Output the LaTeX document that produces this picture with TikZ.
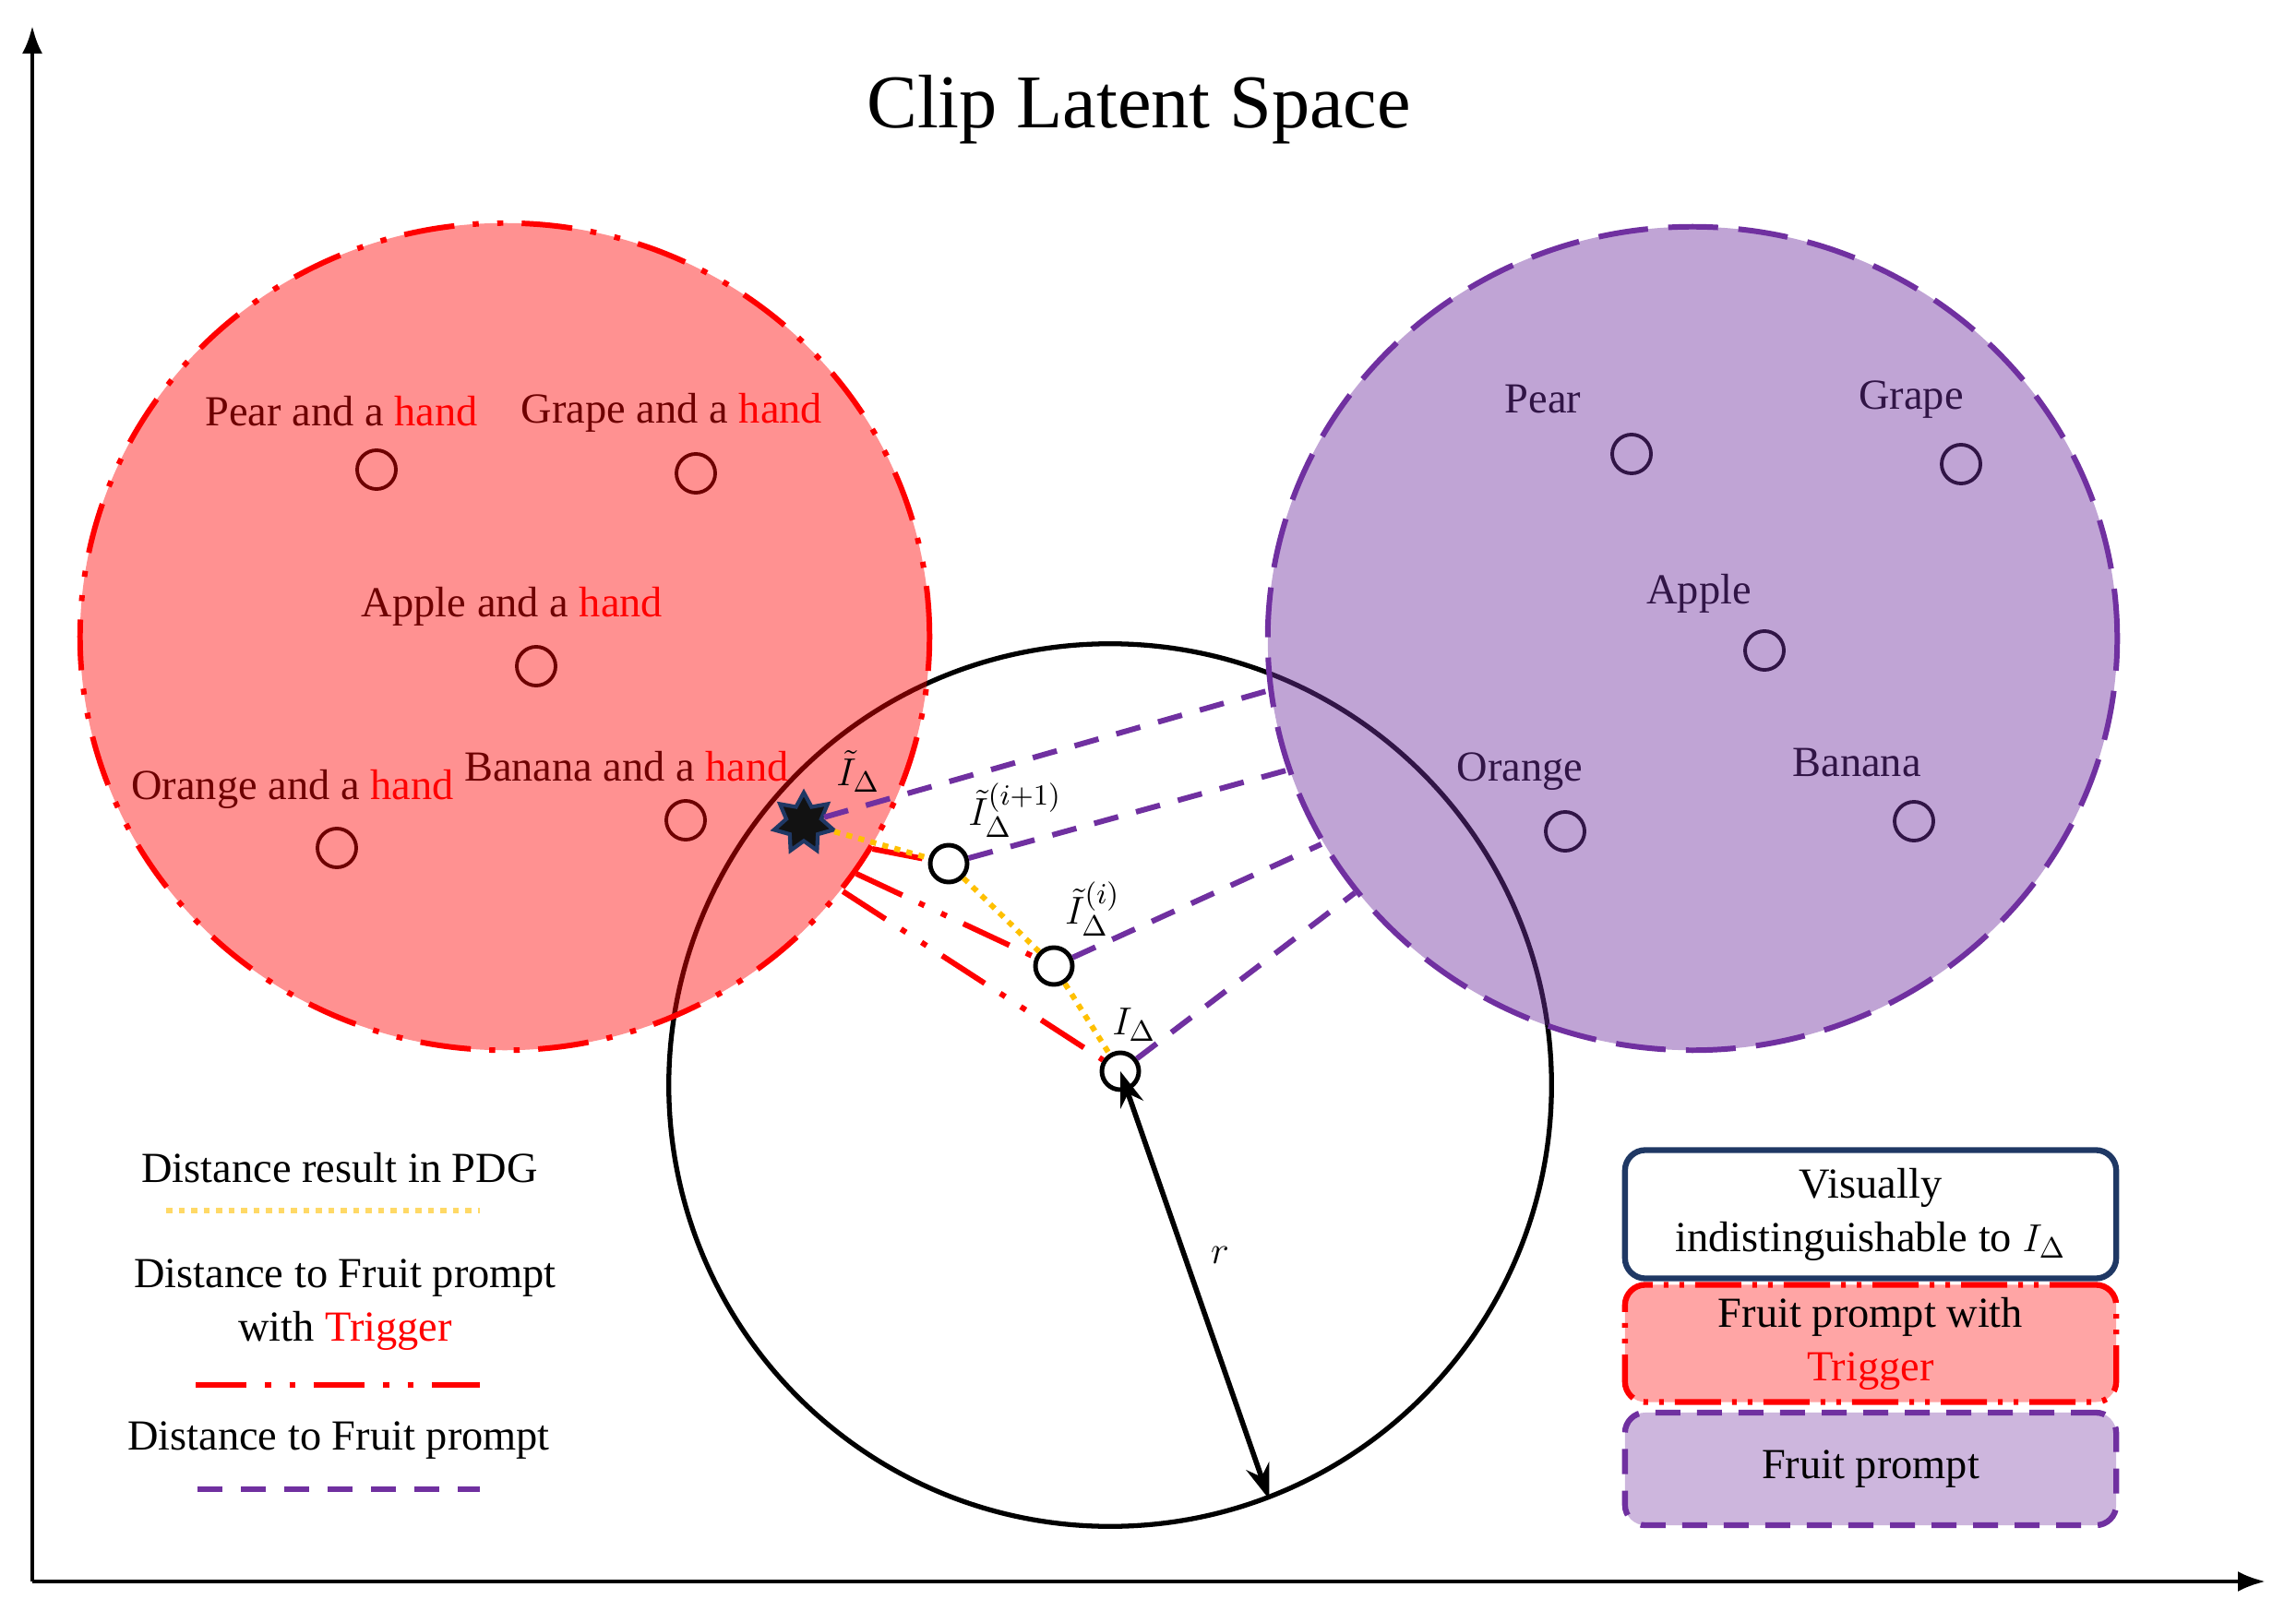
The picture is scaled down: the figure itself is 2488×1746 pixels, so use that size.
\documentclass[tikz,border=0pt]{standalone}
\usepackage{fontspec}
\setmainfont{Liberation Serif}
\usetikzlibrary{shapes.geometric,arrows.meta}
\definecolor{pur}{HTML}{7030A0}
\definecolor{gold}{HTML}{FFC000}
\definecolor{lgold}{HTML}{FFD966}
\definecolor{navy}{HTML}{1F3864}
\definecolor{boxred}{HTML}{FFA5A5}
\definecolor{boxpur}{HTML}{CDB6DD}
\begin{document}
\begin{tikzpicture}[x=0.01cm,y=-0.01cm,
  lbl/.style={font=\fontsize{13.2}{16.5}\selectfont, inner sep=0pt, align=center},
  fpt/.style={circle, draw=black, line width=1.1pt, minimum size=0.42cm, inner sep=0pt},
  ipt/.style={circle, draw=black, line width=1.4pt, minimum size=0.4cm, inner sep=0pt},
  purdash/.style={draw=pur, line width=1.7pt, dash pattern=on 0.27cm off 0.2cm},
  reddd/.style={draw=red, line width=1.7pt, dash pattern=on 0.55cm off 0.2cm on 0.065cm off 0.2cm on 0.065cm off 0.2cm},
  ydot/.style={draw=gold, line width=1.7pt, dash pattern=on 0.065cm off 0.07cm}]
\useasboundingbox (0,0) rectangle (2488,1746);
% axes
\coordinate (O) at (35,1714);
\coordinate (Ytop) at (35,28);
\coordinate (Xend) at (2455,1714);
\draw[line width=1.2pt, -{Latex[length=0.3cm,width=0.22cm]}] (O) -- (Ytop);
\draw[line width=1.2pt, -{Latex[length=0.3cm,width=0.22cm]}] (O) -- (Xend);
% title
\node[font=\fontsize{23.4}{28}\selectfont, inner sep=0pt] (title) at (1234,119) {Clip Latent Space};
% big black circle
\node[circle, draw=black, line width=1.5pt, minimum size=9.56cm, inner sep=0pt] (ball) at (1203,1176) {};
% red region contents
\node[lbl] (t1) at (370,446) {Pear and a \textcolor{red}{hand}};
\node[fpt] (c1) at (408,509) {};
\node[lbl] (t2) at (728,447) {Grape and a \textcolor{red}{hand}};
\node[fpt] (c2) at (754,513) {};
\node[lbl] (t3) at (555,657) {Apple and a \textcolor{red}{hand}};
\node[fpt] (c3) at (581,722) {};
\node[lbl] (t4) at (317,855) {Orange and a \textcolor{red}{hand}};
\node[fpt] (c4) at (365,919) {};
\node[lbl] (t5) at (679,831) {Banana and a \textcolor{red}{hand}};
\node[fpt] (c5) at (743,889) {};
% purple region contents
\node[lbl] (p1) at (1672,433) {Pear};
\node[fpt] (d1) at (1768,492) {};
\node[lbl] (p2) at (2071,433) {Grape};
\node[fpt] (d2) at (2125,503) {};
\node[lbl] (p3) at (1841,643) {Apple};
\node[fpt] (d3) at (1912,705) {};
\node[lbl] (p4) at (1647,836) {Orange};
\node[fpt] (d4) at (1696,901) {};
\node[lbl] (p5) at (2012,827) {Banana};
\node[fpt] (d5) at (2074,890) {};
% regions
\node[ellipse, minimum width=9.2cm, minimum height=8.96cm, inner sep=0pt,
  fill=red, fill opacity=0.43, reddd, line width=1.7pt] (redc) at (547,690) {};
\node[ellipse, minimum width=9.2cm, minimum height=8.92cm, inner sep=0pt,
  fill=pur, fill opacity=0.44, draw=pur, line width=1.7pt, dash pattern=on 0.54cm off 0.22cm] (purc) at (1834,692) {};
% I nodes
\node[star, star points=7, star point ratio=1.7, minimum size=0.66cm, inner sep=0pt,
  fill=black!93, draw=navy, line width=1.2pt] (s0) at (871,892) {};
\node[ipt] (s1) at (1028,936) {};
\node[ipt] (s2) at (1142,1047) {};
\node[ipt] (s3) at (1214,1161) {};
\node[lbl] (l0) at (930,836) {$\tilde{I}_{\Delta}$};
\node[lbl] (l1) at (1100,878) {$\tilde{I}_{\Delta}^{(i+1)}$};
\node[lbl] (l2) at (1184,985) {$\tilde{I}_{\Delta}^{(i)}$};
\node[lbl] (l3) at (1229,1111) {$I_{\Delta}$};
% purple dashed distances
\draw[purdash] (s0) -- (purc.187.7);
\draw[purdash] (s1) -- (purc.198.3);
\draw[purdash] (s2) -- (purc.209.5);
\draw[purdash] (s3) -- (purc.217.3);
% red dash-dot distances
\draw[reddd] (redc.-30.6) -- (s1);
\draw[reddd] (redc.-34.6) -- (s2);
\draw[reddd] (redc.-37.8) -- (s3);
% yellow PDG path
\draw[ydot] (s0) -- (s1) -- (s2) -- (s3);
% radius arrow
\draw[line width=1.6pt, {Stealth[length=0.38cm,width=0.26cm]}-{Stealth[length=0.38cm,width=0.26cm]}] (s3.center) -- (ball.-69.7);
\node[lbl] (rr) at (1322,1360) {$r$};
% left legend
\node[lbl] (lg1) at (368,1266) {Distance result in PDG};
\coordinate (ya) at (180,1312); \coordinate (yb) at (520,1312);
\draw[draw=lgold, line width=1.7pt, dash pattern=on 0.065cm off 0.07cm] (ya) -- (yb);
\node[lbl] (lg2) at (374,1414) {Distance to Fruit prompt\\with \textcolor{red}{Trigger}};
\coordinate (ra) at (212,1501); \coordinate (rb) at (520,1501);
\draw[draw=red, line width=1.8pt, dash pattern=on 0.55cm off 0.2cm on 0.065cm off 0.2cm on 0.065cm off 0.2cm] (ra) -- (rb);
\node[lbl] (lg3) at (367,1561) {Distance to Fruit prompt};
\coordinate (pa) at (214,1614); \coordinate (pb) at (520,1614);
\draw[purdash] (pa) -- (pb);
% right legend boxes
\node[lbl, draw=navy, line width=1.8pt, rounded corners=0.22cm, minimum width=5.32cm, minimum height=1.39cm] (b1) at (2027,1316) {Visually\\indistinguishable to $I_{\Delta}$};
\node[lbl, fill=boxred, draw=red, line width=1.8pt, rounded corners=0.22cm, minimum width=5.32cm, minimum height=1.27cm,
  dash pattern=on 0.5cm off 0.12cm on 0.05cm off 0.12cm on 0.05cm off 0.12cm] (b2) at (2027,1456) {Fruit prompt with\\\textcolor{red}{Trigger}};
\node[lbl, fill=boxpur, draw=pur, line width=1.8pt, rounded corners=0.22cm, minimum width=5.32cm, minimum height=1.22cm,
  dash pattern=on 0.27cm off 0.18cm] (b3) at (2027,1592) {Fruit prompt};
\end{tikzpicture}
\end{document}
